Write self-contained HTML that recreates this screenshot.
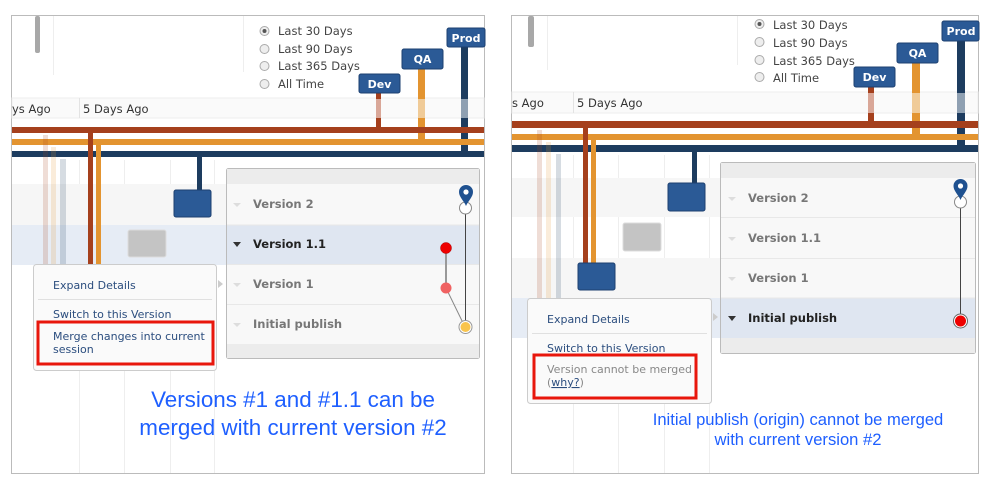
<!DOCTYPE html>
<html><head><meta charset="utf-8"><style>
html,body{margin:0;padding:0;background:#fff;width:999px;height:490px;overflow:hidden}
svg{display:block}
text{font-family:"DejaVu Sans","Liberation Sans",sans-serif}
</style></head><body>
<svg width="999" height="490" viewBox="0 0 999 490" xmlns="http://www.w3.org/2000/svg">
<defs>
<g id="pin"><path d="M0,-20 a7,7 0 0 1 7,7 c0,5 -5,9 -7,14 c-2,-5 -7,-9 -7,-14 a7,7 0 0 1 7,-7z" fill="#1f5190"/><circle cx="0" cy="-13" r="2.6" fill="#fff"/></g>
</defs>

<!-- ============ LEFT PANEL ============ -->
<g>
<rect x="11.5" y="15.5" width="473" height="458" fill="#fff" stroke="#bbb"/>
<g stroke="#eee" stroke-width="1">
<line x1="53.5" y1="16" x2="53.5" y2="75"/><line x1="243.5" y1="16" x2="243.5" y2="72"/>
<line x1="79.5" y1="160" x2="79.5" y2="473"/><line x1="124.5" y1="160" x2="124.5" y2="473"/>
<line x1="170.5" y1="160" x2="170.5" y2="473"/><line x1="214.5" y1="160" x2="214.5" y2="473"/>
</g>
<rect x="35" y="16" width="5" height="37" rx="2" fill="#a8a8a8"/>
<rect x="12" y="184" width="214" height="41" fill="#f6f6f6"/>
<rect x="12" y="225" width="214" height="40" fill="#e6ecf5"/>
<g font-size="11.5" fill="#444">
<circle cx="264.5" cy="31" r="4.5" fill="#eee" stroke="#aaa"/><circle cx="264.5" cy="31" r="2" fill="#555"/>
<circle cx="264.5" cy="49" r="4.5" fill="#eee" stroke="#aaa"/>
<circle cx="264.5" cy="66" r="4.5" fill="#eee" stroke="#aaa"/>
<circle cx="264.5" cy="84" r="4.5" fill="#eee" stroke="#aaa"/>
<text x="278" y="35">Last 30 Days</text><text x="278" y="53">Last 90 Days</text>
<text x="278" y="70">Last 365 Days</text><text x="278" y="88">All Time</text>
</g>
<rect x="12" y="98" width="472" height="20" fill="#fafafa" stroke="#eee"/>
<line x1="79.5" y1="98" x2="79.5" y2="118" stroke="#e3e3e3"/>
<text x="12" y="113" font-size="11.5" fill="#333">ys Ago</text>
<text x="83" y="113" font-size="11.5" fill="#333">5 Days Ago</text>
<rect x="376" y="93" width="5" height="36" fill="#a5401d"/>
<rect x="376" y="99" width="5" height="19" fill="#d9a798"/>
<rect x="418" y="69" width="7" height="72" fill="#e39430"/>
<rect x="418" y="99" width="7" height="19" fill="#f0cb98"/>
<rect x="461" y="47" width="7" height="106" fill="#1d3c5f"/>
<rect x="461" y="99" width="7" height="19" fill="#8fa0b2"/>
<rect x="12" y="127" width="472" height="6" fill="#a5401d"/>
<rect x="12" y="139" width="472" height="6" fill="#e39430"/>
<rect x="12" y="151" width="472" height="6" fill="#1d3c5f"/>
<rect x="43" y="135" width="5" height="130" fill="#a5401d" opacity="0.18"/>
<rect x="51" y="147" width="5" height="118" fill="#e39430" opacity="0.18"/>
<rect x="60" y="159" width="6" height="106" fill="#1d3c5f" opacity="0.18"/>
<rect x="88" y="133" width="5" height="133" fill="#a5401d"/>
<rect x="96" y="145" width="5" height="121" fill="#e39430"/>
<rect x="197" y="157" width="5" height="34" fill="#1d3c5f"/>
<rect x="174" y="190" width="37" height="27" rx="2" fill="#2b5a96" stroke="#1d4070"/>
<rect x="128" y="230" width="38" height="27" rx="2" fill="#c4c4c4" stroke="#ddd"/>
<g font-size="11" font-weight="bold" fill="#fff">
<rect x="359" y="74" width="41" height="19" rx="2" fill="#2b5a96" stroke="#1d4070"/><text x="379.5" y="88" text-anchor="middle">Dev</text>
<rect x="402" y="49" width="41" height="20" rx="2" fill="#2b5a96" stroke="#1d4070"/><text x="422.5" y="63" text-anchor="middle">QA</text>
<rect x="447" y="28" width="38" height="19" rx="2" fill="#2b5a96" stroke="#1d4070"/><text x="466" y="42" text-anchor="middle">Prod</text>
</g>
<rect x="226.5" y="168.5" width="253" height="190" rx="2" fill="#f8f8f8" stroke="#bbb"/>
<rect x="227" y="169" width="252" height="15" fill="#ececec"/>
<rect x="227" y="225" width="252" height="39" fill="#dfe6f1"/>
<g stroke="#e8e8e8"><line x1="227" y1="225" x2="479" y2="225"/><line x1="227" y1="264.5" x2="479" y2="264.5"/><line x1="227" y1="304.5" x2="479" y2="304.5"/></g>
<rect x="227" y="344" width="252" height="14" fill="#ececec"/>
<g font-size="11.5" font-weight="bold">
<text x="253" y="208" fill="#777">Version 2</text>
<text x="253" y="248" fill="#222">Version 1.1</text>
<text x="253" y="288" fill="#777">Version 1</text>
<text x="253" y="328" fill="#777">Initial publish</text>
</g>
<path d="M233,203 h8 l-4,4z" fill="#ddd"/><path d="M233,242 h8 l-4,5z" fill="#333"/>
<path d="M233,283 h8 l-4,4z" fill="#ddd"/><path d="M233,323 h8 l-4,4z" fill="#ddd"/>
<path d="M218,280 l5,4 l-5,4z" fill="#ccc"/>
<line x1="465.5" y1="208" x2="465.5" y2="327" stroke="#444"/>
<line x1="446" y1="248" x2="446" y2="288" stroke="#999" stroke-width="2"/>
<line x1="446" y1="288" x2="465" y2="327" stroke="#888"/>
<circle cx="465.5" cy="208" r="6" fill="#fff" stroke="#888"/>
<use href="#pin" x="466" y="205"/>
<circle cx="446" cy="248" r="5.5" fill="#e00" stroke="#a00" stroke-width="0.5"/>
<circle cx="446" cy="288" r="5.5" fill="#f06262"/>
<circle cx="465.5" cy="327" r="6.5" fill="#fff" stroke="#999"/>
<circle cx="465.5" cy="327" r="5" fill="#f9c44c"/>
<rect x="33.5" y="264.5" width="183" height="106" rx="3" fill="#fafafa" stroke="#ccc"/>
<line x1="38" y1="299.5" x2="212" y2="299.5" stroke="#e0e0e0"/>
<g font-size="11" fill="#2b4d7e">
<text x="53" y="289">Expand Details</text>
<text x="53" y="318">Switch to this Version</text>
<text x="53" y="340">Merge changes into current</text>
<text x="53" y="353">session</text>
</g>
<rect x="38" y="322" width="175" height="42" fill="none" stroke="#e8160c" stroke-width="3"/>
<g font-size="22.4" fill="#1e5fff" text-anchor="middle">
<text x="293" y="407" style="font-family:'Liberation Sans',sans-serif">Versions #1 and #1.1 can be</text>
<text x="293" y="435" style="font-family:'Liberation Sans',sans-serif">merged with current version #2</text>
</g>
</g>

<!-- ============ RIGHT PANEL ============ -->
<g>
<rect x="511.5" y="15.5" width="467" height="458" fill="#fff" stroke="#bbb"/>
<g stroke="#eee">
<line x1="547.5" y1="16" x2="547.5" y2="70"/><line x1="737.5" y1="16" x2="737.5" y2="65"/>
<line x1="573.5" y1="155" x2="573.5" y2="473"/><line x1="618.5" y1="155" x2="618.5" y2="473"/>
<line x1="664.5" y1="155" x2="664.5" y2="473"/><line x1="709.5" y1="155" x2="709.5" y2="473"/>
</g>
<rect x="528" y="16" width="6" height="31" rx="2" fill="#a8a8a8"/>
<rect x="512" y="178" width="208" height="39" fill="#f6f6f6"/>
<rect x="512" y="258" width="208" height="40" fill="#f6f6f6"/>
<rect x="512" y="298" width="208" height="40" fill="#e6ecf5"/>
<g font-size="11.5" fill="#444">
<circle cx="759.5" cy="24" r="4.5" fill="#eee" stroke="#aaa"/><circle cx="759.5" cy="24" r="2" fill="#555"/>
<circle cx="759.5" cy="42" r="4.5" fill="#eee" stroke="#aaa"/>
<circle cx="759.5" cy="60" r="4.5" fill="#eee" stroke="#aaa"/>
<circle cx="759.5" cy="77" r="4.5" fill="#eee" stroke="#aaa"/>
<text x="773" y="29">Last 30 Days</text><text x="773" y="47">Last 90 Days</text>
<text x="773" y="65">Last 365 Days</text><text x="773" y="82">All Time</text>
</g>
<rect x="512" y="92" width="466" height="21" fill="#fafafa" stroke="#eee"/>
<line x1="573.5" y1="92" x2="573.5" y2="113" stroke="#e3e3e3"/>
<text x="512" y="107" font-size="11.5" fill="#333">s Ago</text>
<text x="577" y="107" font-size="11.5" fill="#333">5 Days Ago</text>
<rect x="868" y="87" width="6" height="36" fill="#a5401d"/>
<rect x="868" y="93" width="6" height="20" fill="#d9a798"/>
<rect x="912" y="63" width="8" height="73" fill="#e39430"/>
<rect x="912" y="93" width="8" height="20" fill="#f0cb98"/>
<rect x="957" y="41" width="8" height="106" fill="#1d3c5f"/>
<rect x="957" y="93" width="8" height="20" fill="#8fa0b2"/>
<rect x="512" y="121" width="466" height="7" fill="#a5401d"/>
<rect x="512" y="134" width="466" height="6" fill="#e39430"/>
<rect x="512" y="145" width="466" height="7" fill="#1d3c5f"/>
<rect x="537" y="130" width="5" height="168" fill="#a5401d" opacity="0.18"/>
<rect x="546" y="142" width="5" height="156" fill="#e39430" opacity="0.18"/>
<rect x="556" y="154" width="5" height="144" fill="#1d3c5f" opacity="0.18"/>
<rect x="583" y="128" width="5" height="136" fill="#a5401d"/>
<rect x="591" y="140" width="5" height="124" fill="#e39430"/>
<rect x="578" y="263" width="37" height="27" rx="2" fill="#2b5a96" stroke="#1d4070"/>
<rect x="692" y="152" width="5" height="32" fill="#1d3c5f"/>
<rect x="668" y="183" width="37" height="28" rx="2" fill="#2b5a96" stroke="#1d4070"/>
<rect x="623" y="223" width="38" height="28" rx="2" fill="#c4c4c4" stroke="#ddd"/>
<g font-size="11" font-weight="bold" fill="#fff">
<rect x="854" y="67" width="41" height="20" rx="2" fill="#2b5a96" stroke="#1d4070"/><text x="874.5" y="81" text-anchor="middle">Dev</text>
<rect x="897" y="43" width="41" height="20" rx="2" fill="#2b5a96" stroke="#1d4070"/><text x="917.5" y="57" text-anchor="middle">QA</text>
<rect x="942" y="21" width="37" height="20" rx="2" fill="#2b5a96" stroke="#1d4070"/><text x="961" y="35" text-anchor="middle">Prod</text>
</g>
<rect x="720.5" y="162.5" width="255" height="191" rx="2" fill="#f8f8f8" stroke="#bbb"/>
<rect x="721" y="163" width="254" height="15" fill="#ececec"/>
<rect x="721" y="298" width="254" height="40" fill="#dfe6f1"/>
<g stroke="#e8e8e8"><line x1="721" y1="217.5" x2="975" y2="217.5"/><line x1="721" y1="258.5" x2="975" y2="258.5"/><line x1="721" y1="298" x2="975" y2="298"/></g>
<rect x="721" y="338" width="254" height="15" fill="#ececec"/>
<g font-size="11.5" font-weight="bold">
<text x="748" y="202" fill="#777">Version 2</text>
<text x="748" y="242" fill="#777">Version 1.1</text>
<text x="748" y="282" fill="#777">Version 1</text>
<text x="748" y="322" fill="#222">Initial publish</text>
</g>
<path d="M728,197 h8 l-4,4z" fill="#ddd"/><path d="M728,237 h8 l-4,4z" fill="#ddd"/>
<path d="M728,277 h8 l-4,4z" fill="#ddd"/><path d="M728,316 h8 l-4,5z" fill="#333"/>
<path d="M713,313 l5,4 l-5,4z" fill="#ccc"/>
<line x1="960.5" y1="202" x2="960.5" y2="321" stroke="#444"/>
<circle cx="960.5" cy="202" r="6" fill="#fff" stroke="#888"/>
<use href="#pin" x="960.5" y="199"/>
<circle cx="960.5" cy="321" r="7" fill="#fff" stroke="#666"/>
<circle cx="960.5" cy="321" r="5.5" fill="#e00"/>
<rect x="527.5" y="298.5" width="184" height="105" rx="3" fill="#fafafa" stroke="#ccc"/>
<line x1="532" y1="333.5" x2="707" y2="333.5" stroke="#e0e0e0"/>
<g font-size="11" fill="#2b4d7e">
<text x="547" y="323">Expand Details</text>
<text x="547" y="352">Switch to this Version</text>
</g>
<text x="547" y="373" font-size="11" fill="#888">Version cannot be merged</text>
<text x="547" y="386" font-size="11" fill="#888">(<tspan fill="#2b4d7e" text-decoration="underline">why?</tspan>)</text>
<rect x="534" y="355" width="162" height="43" fill="none" stroke="#e8160c" stroke-width="3"/>
<g font-size="16.6" fill="#1e5fff" text-anchor="middle">
<text x="798" y="425" style="font-family:'Liberation Sans',sans-serif">Initial publish (origin) cannot be merged</text>
<text x="798" y="445" style="font-family:'Liberation Sans',sans-serif">with current version #2</text>
</g>
</g>
</svg>
</body></html>
